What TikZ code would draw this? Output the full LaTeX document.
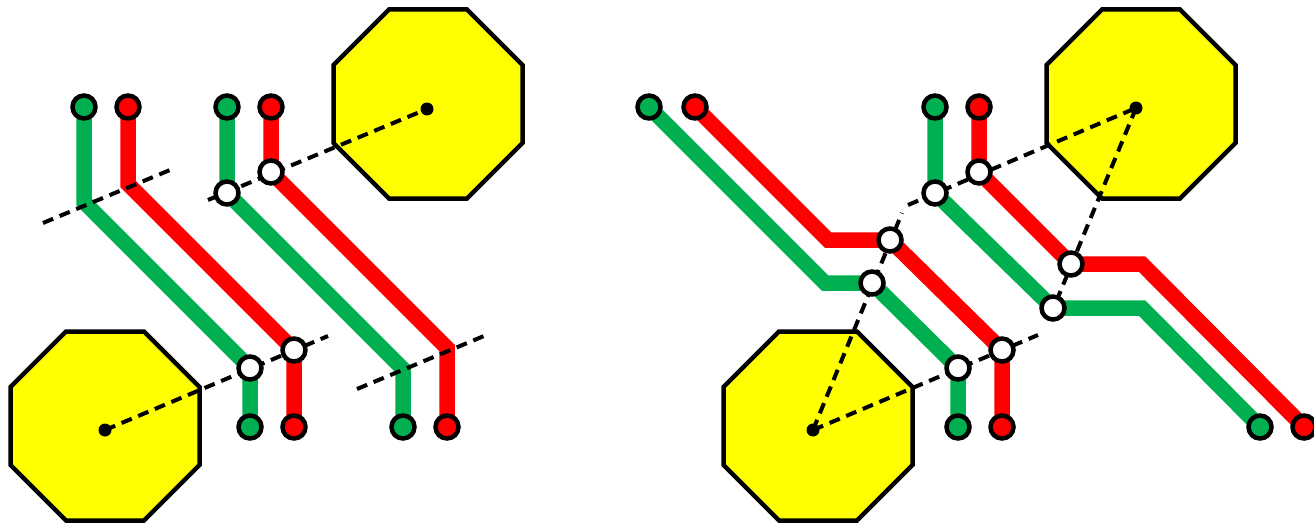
\documentclass[tikz,border=0pt]{standalone}
\usetikzlibrary{backgrounds}
\definecolor{padgreen}{RGB}{0,176,80}
\definecolor{padred}{RGB}{255,0,0}
\definecolor{padyellow}{RGB}{255,255,0}
\tikzset{
  trace/.style={line width=15.5pt, line cap=butt, line join=miter},
  pad/.style={circle, draw=black, line width=4.5pt, minimum size=23pt, inner sep=0pt},
  via/.style={pad, fill=white},
  ratsnest/.style={line width=4pt, dash pattern=on 11pt off 7pt},
  anchor dot/.style={circle, fill=black, inner sep=0pt, minimum size=13pt},
  octagon/.style={fill=padyellow, draw=black, line width=4.5pt, line join=miter},
}

\begin{document}
\begin{tikzpicture}[x=1pt, y=-1pt]
  \useasboundingbox (0,0) rectangle (1314,524);

  % Centre dots of the big pads
  \node[anchor dot] (d1) at (427,109) {};
  \node[anchor dot] (d2) at (105,430) {};
  \node[anchor dot] (d3) at (1136,108) {};
  \node[anchor dot] (d4) at (813,430) {};

  % Left: pads
  \node[pad, fill=padgreen] (g1t) at (84,107) {};
  \node[pad, fill=padred]   (r1t) at (128,107) {};
  \node[pad, fill=padgreen] (g2t) at (227,107) {};
  \node[pad, fill=padred]   (r2t) at (271,107) {};
  \node[pad, fill=padgreen] (g1b) at (250,427) {};
  \node[pad, fill=padred]   (r1b) at (294,427) {};
  \node[pad, fill=padgreen] (g2b) at (403,427) {};
  \node[pad, fill=padred]   (r2b) at (447,427) {};

  % Left: vias
  \node[via] (v1) at (227,193) {};
  \node[via] (v2) at (271,172) {};
  \node[via] (v3) at (250,368) {};
  \node[via] (v4) at (294,350) {};

  % Right: pads
  \node[pad, fill=padgreen] (g3t) at (649,107) {};
  \node[pad, fill=padred]   (r3t) at (695,107) {};
  \node[pad, fill=padgreen] (g4t) at (935,107) {};
  \node[pad, fill=padred]   (r4t) at (979,107) {};
  \node[pad, fill=padgreen] (g3b) at (958,427) {};
  \node[pad, fill=padred]   (r3b) at (1002,427) {};
  \node[pad, fill=padgreen] (g4b) at (1260,427) {};
  \node[pad, fill=padred]   (r4b) at (1304,427) {};

  % Right: vias
  \node[via] (v5) at (872,283) {};
  \node[via] (v6) at (890,240) {};
  \node[via] (v7) at (935,193) {};
  \node[via] (v8) at (979,172) {};
  \node[via] (v9) at (958,368) {};
  \node[via] (v10) at (1002,350) {};
  \node[via] (v11) at (1071,264) {};
  \node[via] (v12) at (1053,308) {};

  \begin{scope}[on background layer]
    % Octagonal pads
    \foreach \cx/\cy in {428/104, 105/426, 1141/104, 818/426}
      \draw[octagon] (\cx,\cy) +(-39,-94.5) -- +(39,-94.5) -- +(94.5,-39)
        -- +(94.5,39) -- +(39,94.5) -- +(-39,94.5) -- +(-94.5,39)
        -- +(-94.5,-39) -- cycle;

    % Left traces
    \draw[trace, padgreen] (g1t.center) -- (84,202) -- (v3.center) -- (g1b.center);
    \draw[trace, padred]   (r1t.center) -- (128,184) -- (v4.center) -- (r1b.center);
    \draw[trace, padgreen] (g2t.center) -- (v1.center) -- (403,369) -- (g2b.center);
    \draw[trace, padred]   (r2t.center) -- (v2.center) -- (447,348) -- (r2b.center);

    % Right traces
    \draw[trace, padgreen] (g3t.center) -- (825,283) -- (v5.center) -- (v9.center) -- (g3b.center);
    \draw[trace, padred]   (r3t.center) -- (828,240) -- (v6.center) -- (v10.center) -- (r3b.center);
    \draw[trace, padgreen] (g4t.center) -- (v7.center) -- (v12.center) -- (1142,308) -- (g4b.center);
    \draw[trace, padred]   (r4t.center) -- (v8.center) -- (v11.center) -- (1142,264) -- (r4b.center);

    % Left dashed lines
    \draw[ratsnest] (43,223) -- (170,170);
    \draw[ratsnest] (208,200) -- (d1.center);
    \draw[ratsnest] (d2.center) -- (328,336);
    \draw[ratsnest] (357,389) -- (484,336);

    % Right dashed lines
    \draw[ratsnest] (908,205) -- (d3.center);
    \draw[ratsnest] (d4.center) -- (1038,335);
    \draw[ratsnest] (d4.center) -- (902,213);
    \draw[ratsnest] (d3.center) -- (1047,324);
  \end{scope}
\end{tikzpicture}
\end{document}
